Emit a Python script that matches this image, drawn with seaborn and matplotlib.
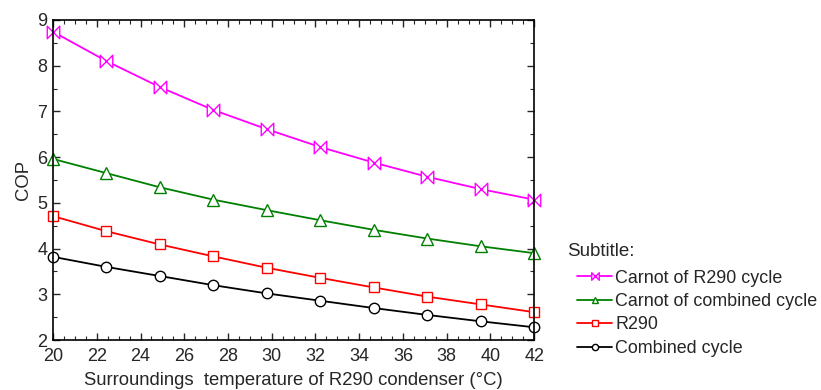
import matplotlib
matplotlib.use("Agg")
import matplotlib.pyplot as plt
import numpy as np
import pandas as pd
import seaborn as sns
from matplotlib.path import Path
from matplotlib.ticker import MultipleLocator

# surroundings temperature of R290 condenser (°C)
temperature = [20.0, 22.44, 24.89, 27.33, 29.78, 32.22, 34.67, 37.11, 39.56, 42.0]

carnot_r290 = [8.74, 8.10, 7.53, 7.03, 6.61, 6.22, 5.88, 5.57, 5.30, 5.07]
carnot_combined = [5.96, 5.65, 5.34, 5.07, 4.84, 4.62, 4.41, 4.22, 4.05, 3.90]
r290 = [4.71, 4.38, 4.09, 3.83, 3.58, 3.36, 3.15, 2.95, 2.78, 2.61]
combined = [3.82, 3.60, 3.40, 3.20, 3.02, 2.86, 2.70, 2.55, 2.41, 2.28]

series_names = ["Carnot of R290 cycle", "Carnot of combined cycle", "R290", "Combined cycle"]

sns.set_style("ticks")
plt.rcParams['font.family'] = ['Liberation Sans', 'DejaVu Sans']

bowtie = Path([(-1, -1), (1, 1), (1, -1), (-1, 1), (-1, -1)],
              [Path.MOVETO, Path.LINETO, Path.LINETO, Path.LINETO, Path.CLOSEPOLY])

styles = {
    "Carnot of R290 cycle": ("#ff00ff", bowtie, 9),
    "Carnot of combined cycle": ("#008000", "^", 8),
    "R290": ("#ff0000", "s", 7),
    "Combined cycle": ("#000000", "o", 7.5),
}

df = pd.DataFrame({
    "T": temperature * 4,
    "COP": carnot_r290 + carnot_combined + r290 + combined,
    "series": np.repeat(series_names, len(temperature)),
})

fig = plt.figure(figsize=(8.21, 3.90), dpi=100)
ax = fig.add_axes([0.0646, 0.128, 0.586, 0.821])

for name in series_names:
    color, marker, size = styles[name]
    sns.lineplot(data=df[df["series"] == name], x="T", y="COP", ax=ax,
                 color=color, marker=marker, markersize=size,
                 markerfacecolor="white", markeredgecolor=color,
                 markeredgewidth=1.0, linewidth=1.3, label=name, clip_on=False)

ax.set_xlim(20, 42)
ax.set_ylim(2, 9)
ax.xaxis.set_major_locator(MultipleLocator(2))
ax.xaxis.set_minor_locator(MultipleLocator(0.5))
ax.yaxis.set_major_locator(MultipleLocator(1))
ax.yaxis.set_minor_locator(MultipleLocator(0.5))
ax.tick_params(which="both", direction="in", top=True, right=True, labelsize=13)
ax.tick_params(which="major", length=5, width=1)
ax.tick_params(which="minor", length=3, width=0.8)
ax.tick_params(axis="x", which="major", pad=6)
ax.tick_params(axis="y", which="major", pad=4)
for sp in ax.spines.values():
    sp.set_linewidth(1.2)
    sp.set_color("black")

ax.set_xlabel("Surroundings  temperature of R290 condenser (°C)", fontsize=13.3, labelpad=5)
ax.set_ylabel("COP", fontsize=13.3, labelpad=4)

leg = ax.legend(loc="center left", bbox_to_anchor=(1.075, 0.084),
                frameon=False, fontsize=12.9, markerscale=0.6,
                handlelength=1.95, handletextpad=0.17, labelspacing=0.36,
                borderaxespad=0)
fig.text(567 / 821, 1 - 252 / 390, "Subtitle:", fontsize=13.5, ha="left", va="center")

fig.savefig("out.png", dpi=100)
